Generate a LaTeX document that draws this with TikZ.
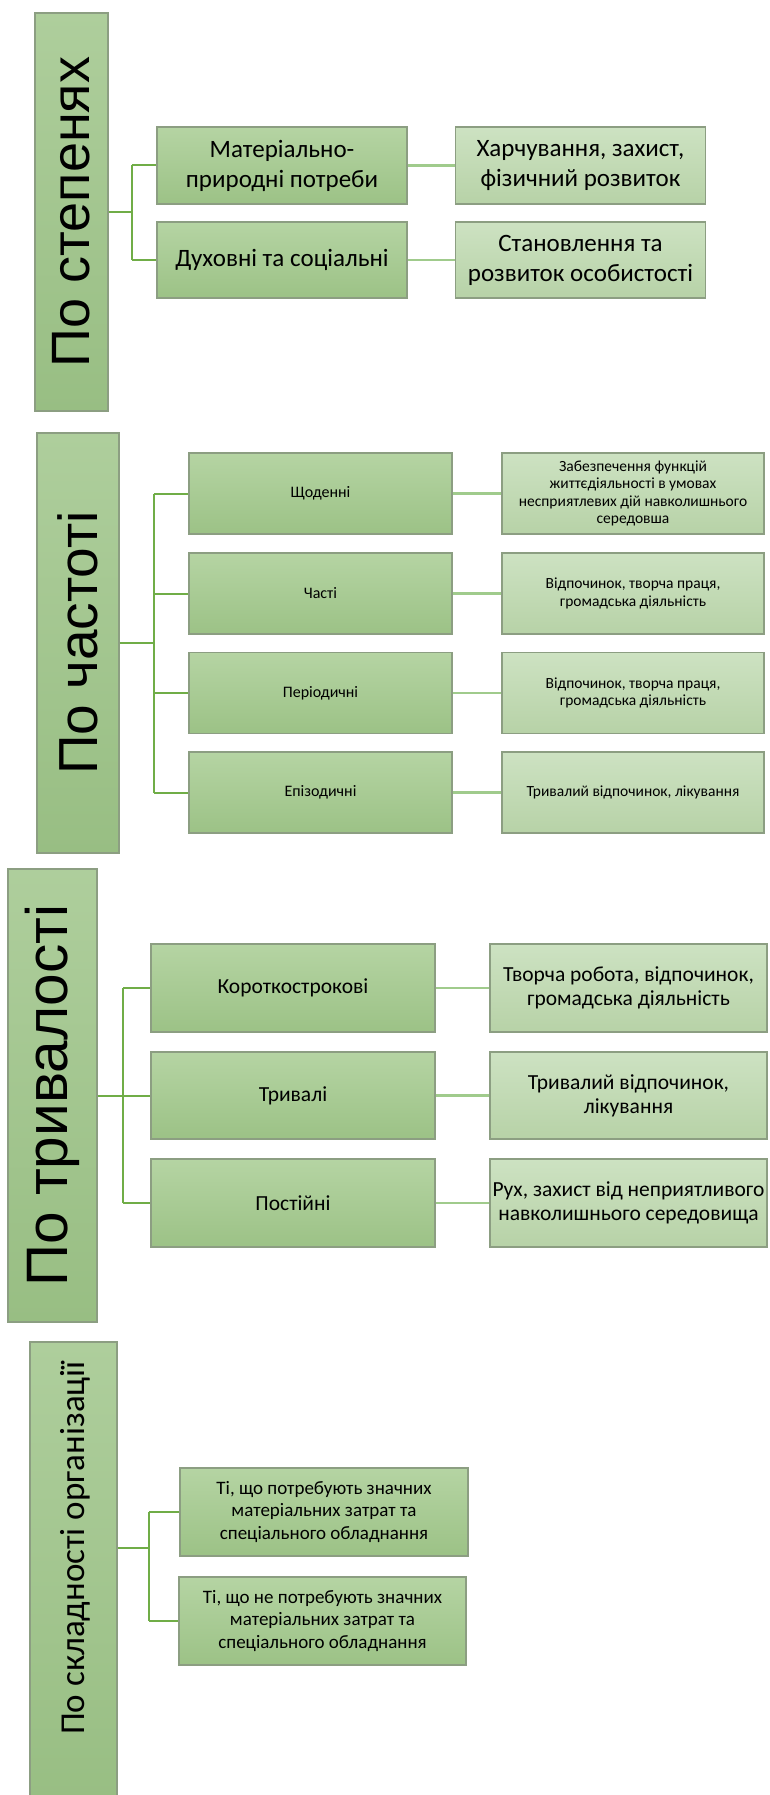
\documentclass[tikz,border=0pt]{standalone}
\usepackage{fontspec}
\setmainfont{Carlito}
\newfontfamily\bigfont{Liberation Sans}
\definecolor{bordc}{HTML}{8C9E82}
\definecolor{ctop}{HTML}{B5D4A3}
\definecolor{cbot}{HTML}{9CC286}
\definecolor{gtop}{HTML}{CDE2C2}
\definecolor{gbot}{HTML}{B7D2A7}
\definecolor{ttop}{HTML}{AECE9C}
\definecolor{tbot}{HTML}{98BE83}
\definecolor{treec}{HTML}{70AD47}
\definecolor{linkc}{HTML}{A0CB8C}
\newcommand\fsA{\fontsize{25}{30}\selectfont}
\newcommand\fsB{\fontsize{16}{17.5}\selectfont}
\newcommand\fsBg{\fontsize{15.5}{17.5}\selectfont}
\newcommand\fsC{\fontsize{21.5}{24}\selectfont}
\newcommand\fsD{\fontsize{19}{22.5}\selectfont}
\begin{document}
\begin{tikzpicture}[x=1pt,y=-1pt,
  box/.style={draw=bordc, line width=1.2pt, inner sep=2pt, align=center, text=black},
  lvlone/.style={box, top color=ctop, bottom color=cbot},
  lvltwo/.style={box, top color=gtop, bottom color=gbot},
  tall/.style={box, top color=ttop, bottom color=tbot},
  tree/.style={draw=treec, line width=2pt},
  link/.style={draw=linkc, line width=2.5pt}]
\useasboundingbox (0,0) rectangle (769,1795);
\fill[white] (0,0) rectangle (769,1795);

% ---------- Section 1 ----------
\coordinate (t1) at (132,0);
\node[tall, minimum width=73pt, minimum height=398pt] (A) at (71.5,212)
  {\rotatebox{90}{\bigfont\fontsize{54}{60}\selectfont По степенях}};
\node[lvlone, minimum width=250pt, minimum height=77pt, font=\fsA] (a1) at (282,165.5) {Матеріально-\\природні потреби};
\node[lvlone, minimum width=250pt, minimum height=76pt, font=\fsA] (a2) at (282,260) {Духовні та соціальні};
\node[lvltwo, minimum width=250pt, minimum height=77pt, font=\fsA] (b1) at (580.5,165.5) {Харчування, захист,\\фізичний розвиток};
\node[lvltwo, minimum width=250pt, minimum height=76pt, font=\fsA] (b2) at (580.5,260) {Становлення та\\розвиток особистості};
\draw[tree] (A.east) -- (A.east -| t1);
\draw[tree] (t1 |- a1) -- (t1 |- a2);
\draw[tree] (t1 |- a1) -- (a1.west);
\draw[tree] (t1 |- a2) -- (a2.west);
\draw[link] (a1.east) -- (b1.west);
\draw[link] (a2.east) -- (b2.west);

% ---------- Section 2 ----------
\coordinate (t2) at (154,0);
\node[tall, minimum width=82pt, minimum height=420pt] (B) at (78,643)
  {\rotatebox{90}{\bigfont\fontsize{55}{60}\selectfont По частоті}};
\node[lvlone, minimum width=263pt, minimum height=81pt, font=\fsB] (d1) at (320.5,493.5) {Щоденні};
\node[lvlone, minimum width=263pt, minimum height=81pt, font=\fsB] (d2) at (320.5,593.5) {Часті};
\node[lvlone, minimum width=263pt, minimum height=81pt, font=\fsB] (d3) at (320.5,693) {Періодичні};
\node[lvlone, minimum width=263pt, minimum height=81pt, font=\fsB] (d4) at (320.5,792.5) {Епізодичні};
\node[lvltwo, minimum width=262pt, minimum height=81pt, font=\fsBg] (e1) at (633,493.5) {Забезпечення функцій\\життєдіяльності в умовах\\несприятлевих дій навколишнього\\середовша};
\node[lvltwo, minimum width=262pt, minimum height=81pt, font=\fsBg] (e2) at (633,593.5) {Відпочинок, творча праця,\\громадська діяльність};
\node[lvltwo, minimum width=262pt, minimum height=81pt, font=\fsBg] (e3) at (633,693) {Відпочинок, творча праця,\\громадська діяльність};
\node[lvltwo, minimum width=262pt, minimum height=81pt, font=\fsBg] (e4) at (633,792.5) {Тривалий відпочинок, лікування};
\draw[tree] (B.east) -- (B.east -| t2);
\draw[tree] (t2 |- d1) -- (t2 |- d4);
\foreach \n in {d1,d2,d3,d4} {\draw[tree] (t2 |- \n) -- (\n.west);}
\draw[link] (d1.east) -- (e1.west);
\draw[link] (d2.east) -- (e2.west);
\draw[link] (d3.east) -- (e3.west);
\draw[link] (d4.east) -- (e4.west);

% ---------- Section 3 ----------
\coordinate (t3) at (123,0);
\node[tall, minimum width=89pt, minimum height=453pt] (C) at (52.5,1095.5)
  {\rotatebox{90}{\bigfont\fontsize{58.5}{62}\selectfont По тривалості}};
\node[lvlone, minimum width=284pt, minimum height=88pt, font=\fsC] (f1) at (293,988) {Короткострокові};
\node[lvlone, minimum width=284pt, minimum height=87pt, font=\fsC] (f2) at (293,1095.5) {Тривалі};
\node[lvlone, minimum width=284pt, minimum height=88pt, font=\fsC] (f3) at (293,1203) {Постійні};
\node[lvltwo, minimum width=277pt, minimum height=88pt, font=\fsC] (g1) at (628.5,988) {Творча робота, відпочинок,\\громадська діяльність};
\node[lvltwo, minimum width=277pt, minimum height=87pt, font=\fsC] (g2) at (628.5,1095.5) {Тривалий відпочинок,\\лікування};
\node[lvltwo, minimum width=277pt, minimum height=88pt, font=\fsC] (g3) at (628.5,1203) {Рух, захист від неприятливого\\навколишнього середовища};
\draw[tree] (C.east) -- (C.east -| t3);
\draw[tree] (t3 |- f1) -- (t3 |- f3);
\foreach \n in {f1,f2,f3} {\draw[tree] (t3 |- \n) -- (\n.west);}
\draw[link] (f1.east) -- (g1.west);
\draw[link] (f2.east) -- (g2.west);
\draw[link] (f3.east) -- (g3.west);

% ---------- Section 4 ----------
\coordinate (t4) at (149,0);
\node[tall, minimum width=87pt, minimum height=458pt] (D) at (73.5,1571) {};
\node[rotate=90, font=\fontsize{35}{38}\selectfont] (Dl) at (75,1548) {По складності організації};
\node[lvlone, minimum width=288pt, minimum height=88pt, font=\fsD] (h1) at (324,1512) {Ті, що потребують значних\\матеріальних затрат та\\спеціального обладнання};
\node[lvlone, minimum width=287pt, minimum height=88pt, font=\fsD] (h2) at (322.5,1621) {Ті, що не потребують значних\\матеріальних затрат та\\спеціального обладнання};
\draw[tree] (D.east |- Dl) -- (t4 |- Dl);
\draw[tree] (t4 |- h1) -- (t4 |- h2);
\draw[tree] (t4 |- h1) -- (h1.west);
\draw[tree] (t4 |- h2) -- (h2.west);
\end{tikzpicture}
\end{document}
